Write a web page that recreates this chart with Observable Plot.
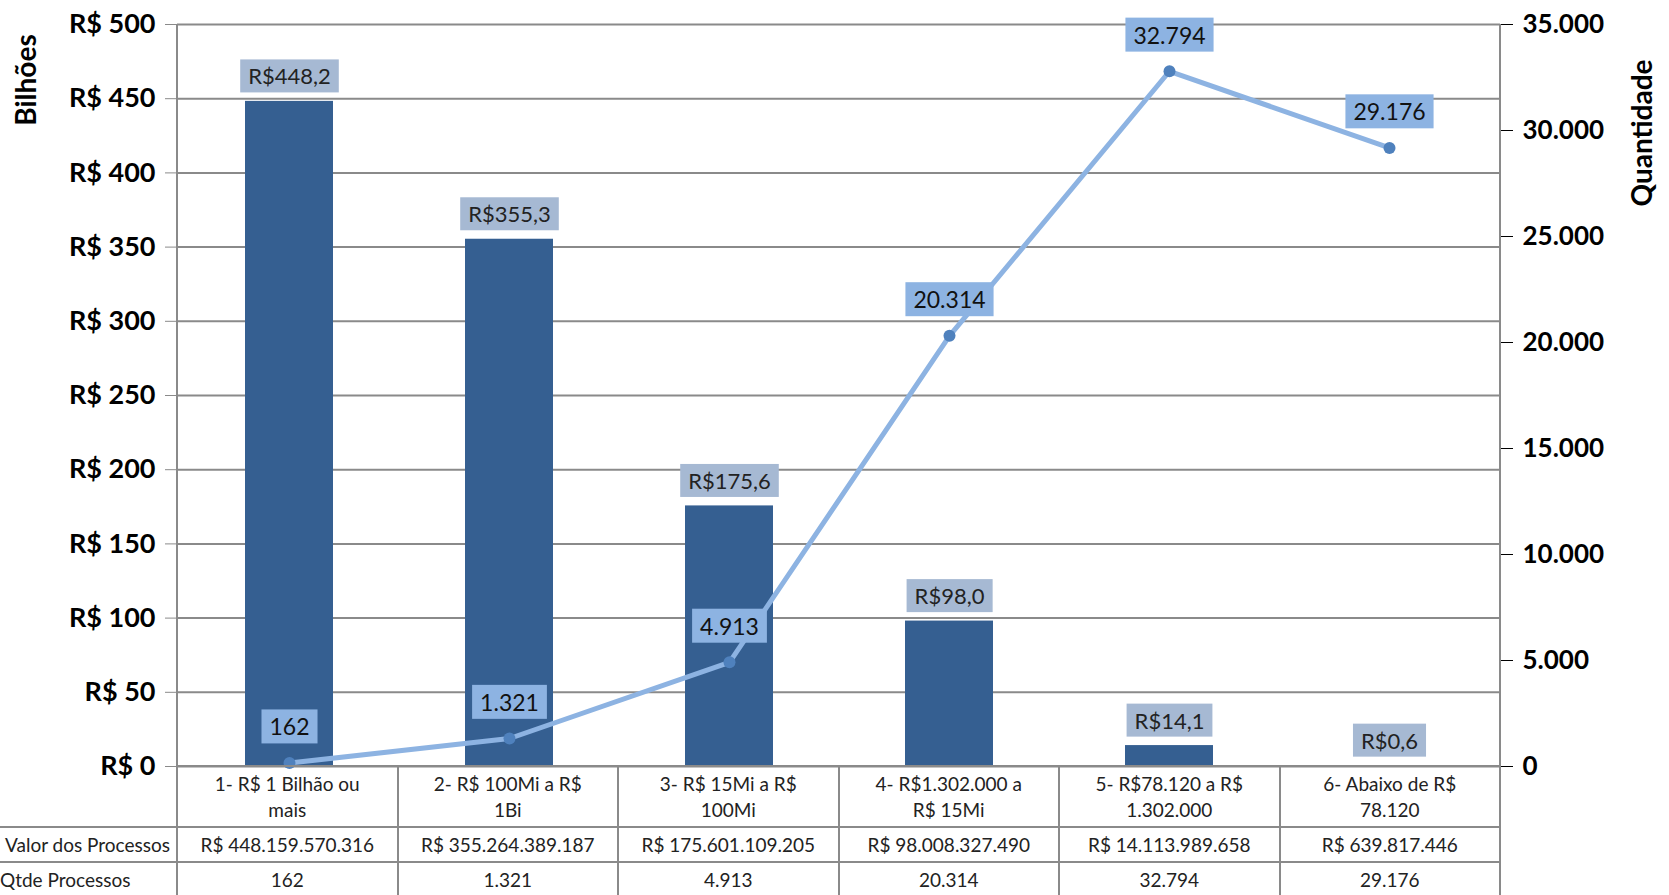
<!DOCTYPE html>
<html>
<head>
<meta charset="utf-8">
<script src="https://cdn.jsdelivr.net/npm/d3@7"></script>
<script src="https://cdn.jsdelivr.net/npm/@observablehq/plot@0.6"></script>
<style>
  body { margin: 0; background: #fff; font-family: Lato, "Open Sans", sans-serif; }
  #wrap { position: relative; width: 1669px; height: 895px; overflow: hidden; }
  #chart { position: absolute; left: 0; top: 0; }
  #tabela { position: absolute; left: 0; top: 765px; width: 1501px; table-layout: fixed; border-collapse: collapse; font-family: Lato, sans-serif; font-size: 19px; color: #222; }
  #tabela td { border: 2px solid #8a8a8a; text-align: center; padding: 0; }
  #tabela td.lab { border-left: none; text-align: right; padding-right: 6px; white-space: nowrap; overflow: visible; }
  #tabela tr.cat td { height: 59px; line-height: 26px; padding: 0 32px; }
  #tabela tr.cat td.lab { border: none; border-right: 2px solid #8a8a8a; padding: 0; }
  #tabela tr.v td { height: 33px; }
  #tabela tr.q td { height: 33px; border-bottom: none; }
</style>
</head>
<body>
<div id="wrap">
  <div id="chart"></div>
  <table id="tabela"></table>
</div>
<script>
const categorias = ["1- R$ 1 Bilhão ou mais", "2- R$ 100Mi a R$ 1Bi", "3- R$ 15Mi a R$ 100Mi",
  "4- R$1.302.000 a R$ 15Mi", "5- R$78.120 a R$ 1.302.000", "6- Abaixo de R$ 78.120"];
const valorBi = [448.2, 355.3, 175.6, 98.0, 14.1, 0.6];
const valorTexto = ["R$ 448.159.570.316", "R$ 355.264.389.187", "R$ 175.601.109.205",
  "R$ 98.008.327.490", "R$ 14.113.989.658", "R$ 639.817.446"];
const qtde = [162, 1321, 4913, 20314, 32794, 29176];
const ticksEsq = [0, 50, 100, 150, 200, 250, 300, 350, 400, 450, 500];
const ticksDir = [0, 5000, 10000, 15000, 20000, 25000, 30000, 35000];

const fator = 500 / 35000; // quantidade -> escala da esquerda
const fmtNum = d3.formatLocale({decimal: ",", thousands: ".", grouping: [3]}).format(",");
const fmtBi = v => "R$" + v.toFixed(1).replace(".", ",");

const dados = categorias.map((c, i) => ({cat: c, valor: valorBi[i], q: qtde[i], qy: qtde[i] * fator}));

const plot = Plot.plot({
  width: 1669,
  height: 795,
  marginLeft: 177,
  marginRight: 169,
  marginTop: 24,
  marginBottom: 29,
  style: {fontFamily: "Lato, sans-serif"},
  x: {domain: categorias, paddingInner: 0.6, paddingOuter: 0.3, axis: null},
  y: {domain: [0, 500], axis: null},
  marks: [
    Plot.ruleY(ticksEsq, {stroke: "#8a8a8a", strokeWidth: 2}),
    Plot.axisY({ticks: ticksEsq, tickSize: 12, tickPadding: 10, stroke: "#8a8a8a",
      tickFormat: d => "R$ " + d, fontSize: 27, fontWeight: "bold", label: null}),
    Plot.axisY({anchor: "right", ticks: ticksDir.map(t => t * fator), tickSize: 12, tickPadding: 10,
      tickFormat: d => fmtNum(Math.round(d / fator)), fontSize: 26, fontWeight: "bold", label: null}),
    Plot.barY(dados, {x: "cat", y: "valor", fill: "#355f91"}),
    Plot.lineY(dados, {x: "cat", y: "qy", stroke: "#8db3e2", strokeWidth: 5}),
    Plot.dot(dados, {x: "cat", y: "qy", r: 6, fill: "#4f81bd"}),
    Plot.text(dados, {x: "cat", y: "valor", dy: -24, text: d => fmtBi(d.valor), fontSize: 22,
      fill: "#222", className: "lbl-bar"}),
    Plot.text(dados, {x: "cat", y: "qy", dy: -35, text: d => fmtNum(d.q), fontSize: 23,
      fill: "#111", className: "lbl-linha"})
  ]
});

const svg = d3.select(plot);
svg.append("line").attr("x1", 1500).attr("x2", 1500).attr("y1", 24).attr("y2", 766)
  .attr("stroke", "#8a8a8a").attr("stroke-width", 2);
svg.append("line").attr("x1", 177).attr("x2", 177).attr("y1", 24).attr("y2", 766)
  .attr("stroke", "#8a8a8a").attr("stroke-width", 2);
svg.append("text").attr("transform", "translate(36,80) rotate(-90)").attr("text-anchor", "middle")
  .attr("font-size", 28).attr("font-weight", "bold").text("Bilhões");
svg.append("text").attr("transform", "translate(1652,133) rotate(-90)").attr("text-anchor", "middle")
  .attr("font-size", 28).attr("font-weight", "bold").text("Quantidade");

document.getElementById("chart").appendChild(plot);

// caixas atrás dos rótulos
function caixas(cls, cor) {
  plot.querySelectorAll(`.${cls} text`).forEach(t => {
    const b = t.getBBox();
    const r = document.createElementNS("http://www.w3.org/2000/svg", "rect");
    r.setAttribute("x", b.x - 8); r.setAttribute("y", b.y - 3);
    r.setAttribute("width", b.width + 16); r.setAttribute("height", b.height + 6);
    r.setAttribute("fill", cor);
    if (t.getAttribute("transform")) r.setAttribute("transform", t.getAttribute("transform"));
    t.parentNode.insertBefore(r, t);
  });
}
caixas("lbl-bar", "#a6b9d3");
caixas("lbl-linha", "#8db3e2");

// tabela de dados
const tab = d3.select("#tabela");
const colW = (1500 - 177) / 6;
const cg = tab.append("colgroup");
cg.append("col").style("width", "177px");
categorias.forEach(() => cg.append("col").style("width", colW + "px"));
const r1 = tab.append("tr").attr("class", "cat");
r1.append("td").attr("class", "lab");
categorias.forEach(c => r1.append("td").text(c));
const r2 = tab.append("tr").attr("class", "v");
r2.append("td").attr("class", "lab").text("Valor dos Processos");
valorTexto.forEach(v => r2.append("td").text(v));
const r3 = tab.append("tr").attr("class", "q");
r3.append("td").attr("class", "lab").style("text-align", "left").style("padding-left", "0").text("Qtde Processos");
qtde.forEach(v => r3.append("td").text(fmtNum(v)));
</script>
</body>
</html>
